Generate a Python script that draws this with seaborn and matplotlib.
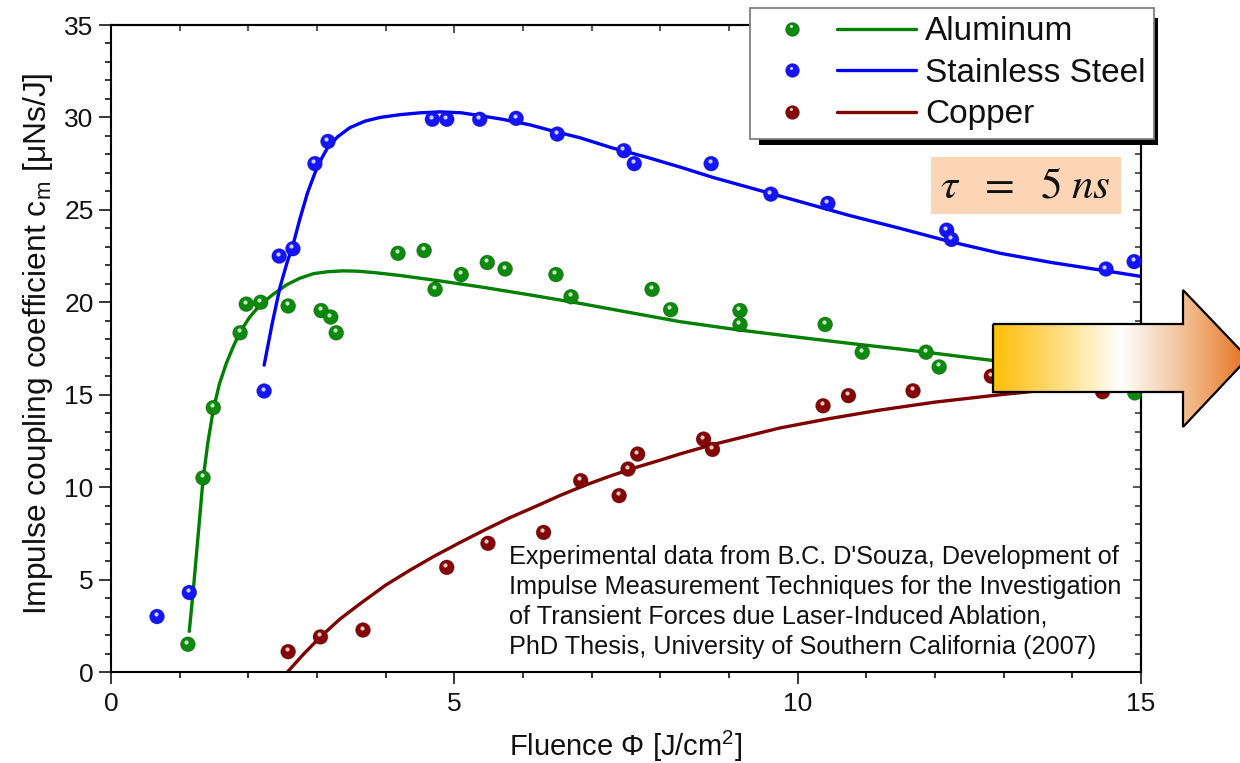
import numpy as np
import pandas as pd
import matplotlib
matplotlib.use("Agg")
import matplotlib.pyplot as plt
import seaborn as sns
from matplotlib.lines import Line2D
from matplotlib.patches import Polygon, Rectangle
from matplotlib.legend_handler import HandlerBase
from matplotlib.colors import LinearSegmentedColormap
from matplotlib.transforms import ScaledTranslation
from matplotlib.ticker import MultipleLocator

# ---------------- data ----------------
series_names = ["Aluminum", "Stainless Steel", "Copper"]

al_x = [1.12, 1.34, 1.49, 1.88, 1.97, 2.18, 2.58, 3.06, 3.20, 3.28, 4.18, 4.56, 4.72,
        5.10, 5.48, 5.74, 6.48, 6.70, 7.88, 8.15, 9.16, 9.16, 10.40, 10.94, 11.87, 12.06, 14.91]
al_y = [1.5, 10.5, 14.3, 18.35, 19.9, 20.0, 19.8, 19.55, 19.2, 18.35, 22.65, 22.8, 20.7,
        21.5, 22.15, 21.8, 21.5, 20.3, 20.7, 19.6, 19.55, 18.8, 18.8, 17.3, 17.3, 16.5, 15.1]

ss_x = [0.67, 1.14, 2.23, 2.45, 2.65, 2.97, 3.16, 4.68, 4.89, 5.37, 5.90, 6.50, 7.47, 7.62,
        8.74, 9.61, 10.44, 12.17, 12.24, 14.49, 14.90]
ss_y = [3.0, 4.3, 15.2, 22.5, 22.9, 27.5, 28.7, 29.9, 29.9, 29.9, 29.95, 29.1, 28.2, 27.5,
        27.5, 25.85, 25.35, 23.9, 23.4, 21.8, 22.2]

cu_x = [2.58, 3.05, 3.67, 4.89, 5.49, 6.30, 6.84, 7.40, 7.53, 7.67, 8.63, 8.76, 10.37,
        10.74, 11.68, 12.82, 14.44]
cu_y = [1.1, 1.9, 2.27, 5.66, 6.96, 7.55, 10.35, 9.54, 10.98, 11.79, 12.6, 12.04, 14.4,
        14.95, 15.21, 16.0, 15.16]

# fitted curves
al_fit_x = [1.14, 1.20, 1.25, 1.30, 1.34, 1.41, 1.49, 1.58, 1.68, 1.78, 1.88, 2.02, 2.17,
            2.35, 2.56, 2.75, 2.95, 3.15, 3.38, 3.60, 3.85, 4.21, 4.80, 5.37, 6.10, 6.83,
            7.55, 8.29, 9.15, 10.03, 10.75, 11.49, 12.15, 12.80, 13.90, 15.0]
al_fit_y = [2.2, 4.5, 6.6, 8.7, 10.4, 12.4, 14.2, 15.6, 16.7, 17.6, 18.4, 19.2, 19.85,
            20.4, 20.95, 21.3, 21.55, 21.65, 21.7, 21.68, 21.6, 21.45, 21.15, 20.84, 20.4,
            19.94, 19.45, 18.95, 18.5, 18.1, 17.78, 17.47, 17.17, 16.87, 16.4, 16.0]

ss_fit_x = [2.23, 2.35, 2.46, 2.56, 2.65, 2.75, 2.86, 2.97, 3.07, 3.16, 3.30, 3.48, 3.70,
            3.92, 4.21, 4.50, 4.80, 5.10, 5.37, 5.70, 6.10, 6.45, 6.83, 7.30, 7.80, 8.30,
            8.77, 9.40, 10.03, 10.75, 11.49, 12.20, 12.95, 13.70, 14.40, 15.0]
ss_fit_y = [16.6, 18.9, 20.8, 22.1, 23.1, 24.5, 25.9, 27.0, 27.8, 28.4, 28.95, 29.45, 29.8,
            30.0, 30.15, 30.25, 30.3, 30.25, 30.1, 29.9, 29.6, 29.25, 28.9, 28.35, 27.85,
            27.3, 26.75, 26.1, 25.45, 24.7, 24.0, 23.3, 22.65, 22.15, 21.75, 21.4]

cu_fit_x = [2.57, 2.80, 3.05, 3.33, 3.63, 4.00, 4.35, 4.70, 5.08, 5.45, 5.81, 6.18, 6.54,
            6.90, 7.27, 7.63, 7.99, 8.29, 8.76, 9.25, 9.74, 10.45, 11.2, 12.0, 12.9, 14.0, 15.0]
cu_fit_y = [0.0, 0.95, 1.9, 2.85, 3.7, 4.7, 5.5, 6.25, 7.0, 7.7, 8.35, 8.95, 9.55,
            10.1, 10.6, 11.05, 11.45, 11.8, 12.3, 12.75, 13.2, 13.7, 14.17, 14.6, 14.98,
            15.4, 15.75]

line_colors = ["#008000", "#0000FF", "#800000"]
point_colors = ["#0B8A0B", "#1414FF", "#850505"]

x_ticks = [0, 5, 10, 15]
y_ticks = [0, 5, 10, 15, 20, 25, 30, 35]

note_lines = ["Experimental data from B.C. D'Souza, Development of",
              "Impulse Measurement Techniques for the Investigation",
              "of Transient Forces due Laser-Induced Ablation,",
              "PhD Thesis, University of Southern California (2007)"]

# ---------------- tables ----------------
pts = pd.concat([
    pd.DataFrame({"x": al_x, "y": al_y, "series": series_names[0]}),
    pd.DataFrame({"x": ss_x, "y": ss_y, "series": series_names[1]}),
    pd.DataFrame({"x": cu_x, "y": cu_y, "series": series_names[2]}),
], ignore_index=True)
fits = pd.concat([
    pd.DataFrame({"x": al_fit_x, "y": al_fit_y, "series": series_names[0]}),
    pd.DataFrame({"x": ss_fit_x, "y": ss_fit_y, "series": series_names[1]}),
    pd.DataFrame({"x": cu_fit_x, "y": cu_fit_y, "series": series_names[2]}),
], ignore_index=True)

# ---------------- style ----------------
sns.set_theme(style="ticks")
plt.rcParams["font.family"] = ["Liberation Sans", "DejaVu Sans"]
plt.rcParams["axes.linewidth"] = 1.5

W, H = 1240, 763
fig = plt.figure(figsize=(W / 100, H / 100), dpi=100)
fig.patch.set_facecolor("white")
ax = fig.add_axes([111 / W, 1 - 672 / H, 1030 / W, 647 / H])
ax.set_facecolor("white")

sns.lineplot(data=fits, x="x", y="y", hue="series", hue_order=series_names,
             palette=line_colors, estimator=None, sort=False, legend=False,
             linewidth=2.4, ax=ax, zorder=2)
sns.scatterplot(data=pts, x="x", y="y", hue="series", hue_order=series_names,
                palette=point_colors, s=115, edgecolor=(0, 0, 0, 0.25), linewidth=0.6,
                legend=False, ax=ax, zorder=3)
hl = ax.transData + ScaledTranslation(-1.5 / 100, 2.5 / 100, fig.dpi_scale_trans)
sns.scatterplot(data=pts, x="x", y="y", color="white", s=9, alpha=0.8, linewidth=0,
                legend=False, ax=ax, zorder=4, transform=hl)

ax.set_xlim(0, 15)
ax.set_ylim(0, 35)
ax.set_xticks(x_ticks)
ax.set_yticks(y_ticks)
ax.xaxis.set_minor_locator(MultipleLocator(1))
ax.yaxis.set_minor_locator(MultipleLocator(1))
ax.tick_params(which="major", direction="out", length=8.6, width=1.1, labelsize=19,
               color="black", labelcolor="#111111")
ax.tick_params(which="minor", direction="out", length=4.6, width=1.1, color="black")
ax.tick_params(axis="x", which="major", pad=6)
ax.tick_params(axis="y", which="major", pad=4)
for sp in ax.spines.values():
    sp.set_visible(True)
    sp.set_linewidth(1.5)
    sp.set_color("black")

top = ax.secondary_xaxis("top")
top.set_xticks(x_ticks)
top.xaxis.set_minor_locator(MultipleLocator(1))
top.tick_params(which="major", direction="in", length=6, width=1.1, labeltop=False)
top.tick_params(which="minor", direction="in", length=4, width=1.1)
right = ax.secondary_yaxis("right")
right.set_yticks(y_ticks)
right.yaxis.set_minor_locator(MultipleLocator(1))
right.tick_params(which="major", direction="in", length=6, width=1.1, labelright=False)
right.tick_params(which="minor", direction="in", length=4, width=1.1)

xl = ax.set_xlabel("Fluence \u03a6 [J/cm$^\\mathregular{2}$]", fontsize=21, color="#111111")
xl.set_verticalalignment("bottom")
ax.xaxis.set_label_coords(0.5, (672 - 764) / 647)
ax.set_ylabel("Impulse coupling coefficient c$_\\mathregular{m}$ [\u03bcNs/J]", fontsize=22.85,
              color="#111111")
ax.yaxis.set_label_coords((55 - 111) / 1030, 0.507)

fig.text(509 / W, 1 - 545 / H, "\n".join(note_lines), fontsize=18.2, ha="left", va="top",
         color="#111111", linespacing=1.31, zorder=2)


# ---------------- legend ----------------
class MarkerLineHandler(HandlerBase):
    def create_artists(self, legend, orig_handle, xdescent, ydescent, width, height,
                       fontsize, trans):
        y = height / 2 - ydescent
        xm = width * 0.214 - xdescent
        mk = Line2D([xm], [y], ls="", marker="o", markersize=10,
                    markerfacecolor=orig_handle.get_markerfacecolor(),
                    markeredgecolor=(0, 0, 0, 0.25), markeredgewidth=0.6)
        sp = Line2D([xm - 1.0], [y + 1.8], ls="", marker="o",
                    markersize=2.2, markerfacecolor="white", markeredgewidth=0, alpha=0.8)
        ln = Line2D([width * 0.5 - xdescent, width - xdescent], [y, y],
                    color=orig_handle.get_color(), linewidth=2.4)
        for a in (mk, sp, ln):
            a.set_transform(trans)
        return [ln, mk, sp]


handles = [Line2D([], [], color=lc, markerfacecolor=pc)
           for lc, pc in zip(line_colors, point_colors)]
leg = fig.legend(handles=handles, labels=series_names,
                 handler_map={Line2D: MarkerLineHandler()},
                 loc="upper left", bbox_to_anchor=(750 / W, 1 - 8 / H),
                 bbox_transform=fig.transFigure, borderaxespad=0,
                 fontsize=24, handlelength=4.73, handletextpad=0.27,
                 labelspacing=0.315, borderpad=0.25, frameon=True, fancybox=False,
                 framealpha=1, facecolor="white", edgecolor="#808080")
leg.get_frame().set_linewidth(1.3)
for t in leg.get_texts():
    t.set_color("#111111")
leg.set_zorder(6)
fig.add_artist(Rectangle((759 / W, 1 - 145 / H), (1158 - 759) / W, (145 - 18) / H,
                         transform=fig.transFigure, facecolor="black",
                         edgecolor="none", zorder=5))

# ---------------- overlay: tau box and block arrow ----------------
ov = fig.add_axes([0, 0, 1, 1], zorder=3)
ov.set_xlim(0, W)
ov.set_ylim(H, 0)
ov.axis("off")

ov.add_patch(Rectangle((931, 157), 190, 57, facecolor="#FBD5B5", edgecolor="none", zorder=1))
ov.text(1025, 186, r"$\tau\ \ =\ \ 5\;ns$", math_fontfamily="stix", fontsize=31,
        ha="center", va="center", color="#111111", zorder=2)

arrow_pts = [(993, 324), (1183, 324), (1183, 290), (1248, 358), (1183, 427),
             (1183, 392), (993, 392)]
cmap = LinearSegmentedColormap.from_list(
    "arrow", [(0.0, "#FFC000"), (0.094, "#FFC832"), (0.29, "#FFE18C"), (0.5, "#FFFFFF"),
              (0.68, "#F5D2B4"), (0.81, "#F0AF78"), (1.0, "#E67020")])
grad = np.linspace(0, 1, 256)[None, :]
im = ov.imshow(grad, extent=(993, 1248, 427, 290), cmap=cmap, aspect="auto", zorder=1,
               interpolation="bilinear")
poly = Polygon(arrow_pts, closed=True, facecolor="none", edgecolor="black",
               linewidth=1.6, zorder=2)
ov.add_patch(poly)
im.set_clip_path(poly)
ov.set_xlim(0, W)
ov.set_ylim(H, 0)

fig.savefig("out.png", dpi=100, facecolor="white")
